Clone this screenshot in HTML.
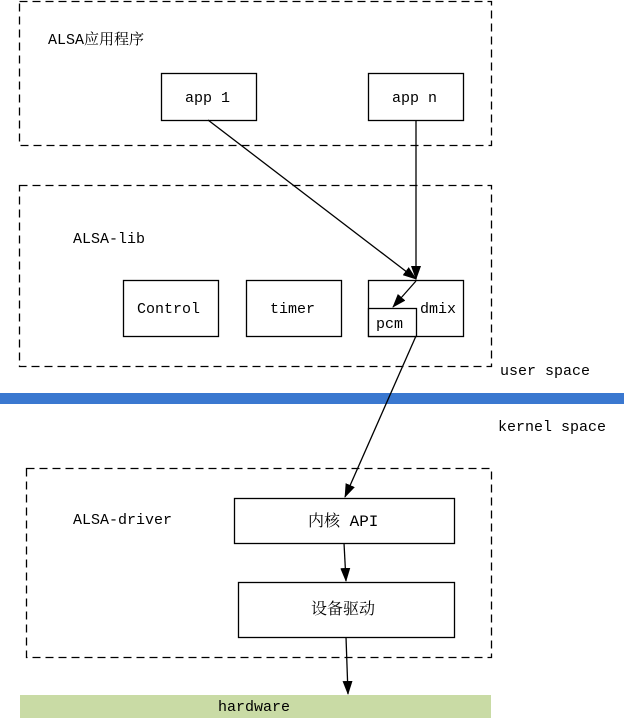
<!DOCTYPE html>
<html><head><meta charset="utf-8"><style>
body{margin:0;background:#fff;}
svg text{font-family:"Liberation Mono","Noto Serif CJK SC",monospace;font-size:15px;fill:#000;}
</style></head><body>
<svg width="624" height="718" xmlns="http://www.w3.org/2000/svg">
<defs><marker id="a" markerWidth="14" markerHeight="10" refX="13" refY="5" orient="auto" markerUnits="userSpaceOnUse"><path d="M0,0 L14,5 L0,10 z" fill="#000"/></marker></defs>
<g fill="none" stroke="#000" stroke-width="1.3" stroke-dasharray="8,5">
<rect x="19.5" y="1.5" width="472" height="144"/>
<rect x="19.5" y="185.5" width="472" height="181"/>
<rect x="26.5" y="468.5" width="465" height="189"/>
</g>
<rect x="0" y="393" width="624" height="11" fill="#3a78d0"/>
<rect x="20" y="695" width="471" height="23" fill="#c9dba5"/>
<g fill="#fff" stroke="#000" stroke-width="1.3">
<rect x="161.5" y="73.5" width="95" height="47"/>
<rect x="368.5" y="73.5" width="95" height="47"/>
<rect x="123.5" y="280.5" width="95" height="56"/>
<rect x="246.5" y="280.5" width="95" height="56"/>
<rect x="368.5" y="280.5" width="95" height="56"/>
<rect x="368.5" y="308.5" width="48" height="28"/>
<rect x="234.5" y="498.5" width="220" height="45"/>
<rect x="238.5" y="582.5" width="216" height="55"/>
</g>
<g stroke="#000" stroke-width="1.3" marker-end="url(#a)">
<line x1="208" y1="120" x2="416" y2="279"/>
<line x1="416" y1="120" x2="416" y2="279"/>
<line x1="416" y1="281" x2="393" y2="307"/>
<line x1="416" y1="336" x2="345" y2="497"/>
<line x1="344" y1="543" x2="346" y2="581"/>
<line x1="346" y1="637" x2="348" y2="694"/>
</g>
<text x="48" y="44">ALSA应用程序</text>
<text x="185" y="102">app 1</text>
<text x="392" y="102">app n</text>
<text x="73" y="243">ALSA-lib</text>
<text x="137" y="313">Control</text>
<text x="270" y="313">timer</text>
<text x="420" y="313">dmix</text>
<text x="376" y="328">pcm</text>
<text x="500" y="375">user space</text>
<text x="498" y="431">kernel space</text>
<text x="73" y="524">ALSA-driver</text>
<text x="308" y="526" style="font-size:16px">内核 API</text>
<text x="311" y="614" style="font-size:16px">设备驱动</text>
<text x="218" y="711">hardware</text>
</svg>
</body></html>
